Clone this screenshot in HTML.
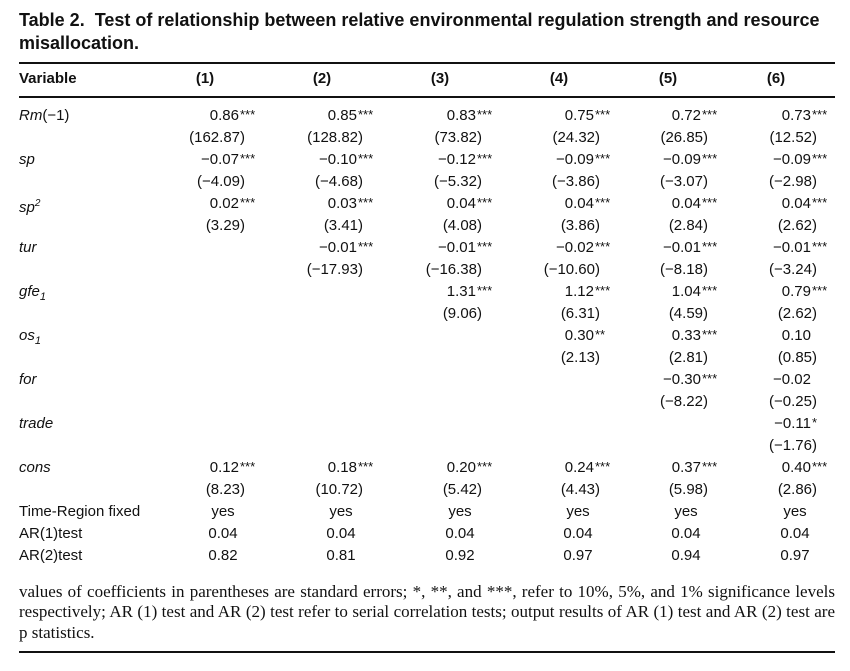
<!DOCTYPE html>
<html><head><meta charset="utf-8"><style>
body{margin:0;width:850px;height:671px;background:#fff;position:relative;overflow:hidden;font-family:"Liberation Sans",sans-serif;color:#111}
.t{position:absolute;white-space:nowrap;font-size:15px;line-height:18px}
.r{text-align:right}
.title{position:absolute;left:19px;top:9px;font-weight:bold;font-size:18px;line-height:23px;width:830px}
.line{position:absolute;left:19px;width:816px;background:#111}
.fl{position:absolute;left:19px;width:816px;font-family:"Liberation Serif",serif;font-size:17px;line-height:20px;white-space:nowrap}
.j{text-align:justify;text-align-last:justify}
i{font-style:italic}
</style></head><body>
<div class="title">Table 2.&nbsp; Test of relationship between relative environmental regulation strength and resource misallocation.</div>
<div class="line" style="top:62px;height:2px"></div>
<div class="line" style="top:96px;height:2px"></div>
<div class="line" style="top:651px;height:2px"></div>
<div class="t" style="left:19px;top:70px;font-weight:bold">Variable</div>
<div id="c"></div>
<div class="fl j" style="top:582px">values of coefficients in parentheses are standard errors; *, **, and ***, refer to 10%, 5%, and 1% significance levels</div>
<div class="fl j" style="top:602px">respectively; AR (1) test and AR (2) test refer to serial correlation tests; output results of AR (1) test and AR (2) test are</div>
<div class="fl" style="top:623px">p statistics.</div>
<script>
var numEnd=[239,357,476,594,701,811], parEnd=[245,363,482,600,708,817], hc=[205,322,440,559,668,776];
var h='';
for(var i=0;i<6;i++) h+='<div class="t" style="left:'+(hc[i]-30)+'px;width:60px;text-align:center;top:70px;font-weight:bold">('+(i+1)+')</div>';
var rows=[
['<i>Rm</i>(−1)',['0.86***','0.85***','0.83***','0.75***','0.72***','0.73***'],['(162.87)','(128.82)','(73.82)','(24.32)','(26.85)','(12.52)']],
['<i>sp</i>',['−0.07***','−0.10***','−0.12***','−0.09***','−0.09***','−0.09***'],['(−4.09)','(−4.68)','(−5.32)','(−3.86)','(−3.07)','(−2.98)']],
['<i>sp</i><sup style="font-size:10px;font-style:italic">2</sup>',['0.02***','0.03***','0.04***','0.04***','0.04***','0.04***'],['(3.29)','(3.41)','(4.08)','(3.86)','(2.84)','(2.62)']],
['<i>tur</i>',['','−0.01***','−0.01***','−0.02***','−0.01***','−0.01***'],['','(−17.93)','(−16.38)','(−10.60)','(−8.18)','(−3.24)']],
['<i>gfe</i><sub style="font-size:11px;font-style:italic">1</sub>',['','','1.31***','1.12***','1.04***','0.79***'],['','','(9.06)','(6.31)','(4.59)','(2.62)']],
['<i>os</i><sub style="font-size:11px;font-style:italic">1</sub>',['','','','0.30**','0.33***','0.10'],['','','','(2.13)','(2.81)','(0.85)']],
['<i>for</i>',['','','','','−0.30***','−0.02'],['','','','','(−8.22)','(−0.25)']],
['<i>trade</i>',['','','','','','−0.11*'],['','','','','','(−1.76)']],
['<i>cons</i>',['0.12***','0.18***','0.20***','0.24***','0.37***','0.40***'],['(8.23)','(10.72)','(5.42)','(4.43)','(5.98)','(2.86)']]];
var y=107;
rows.forEach(function(r){
 h+='<div class="t" style="left:19px;top:'+y+'px">'+r[0]+'</div>';
 for(var i=0;i<6;i++){
  var v=r[1][i]; if(v){var m=v.match(/^([^*]*)(\**)$/);
   h+='<div class="t r" style="left:'+(numEnd[i]-100)+'px;width:100px;top:'+y+'px">'+m[1]+'</div>';
   if(m[2]) h+='<div class="t" style="left:'+(numEnd[i]+1)+'px;top:'+(y-1)+'px;font-size:13px">'+m[2]+'</div>';}
  var p=r[2][i]; if(p) h+='<div class="t r" style="left:'+(parEnd[i]-100)+'px;width:100px;top:'+(y+22)+'px">'+p+'</div>';
 }
 y+=44;
});
var ex=[['Time-Region fixed',['yes','yes','yes','yes','yes','yes']],['AR(1)test',['0.04','0.04','0.04','0.04','0.04','0.04']],['AR(2)test',['0.82','0.81','0.92','0.97','0.94','0.97']]];
ex.forEach(function(r){
 h+='<div class="t" style="left:19px;top:'+y+'px">'+r[0]+'</div>';
 for(var i=0;i<6;i++){var c=parEnd[i]-22;h+='<div class="t" style="left:'+(c-40)+'px;width:80px;text-align:center;top:'+y+'px">'+r[1][i]+'</div>';}
 y+=22;
});
document.getElementById('c').innerHTML=h;
</script>
</body></html>
